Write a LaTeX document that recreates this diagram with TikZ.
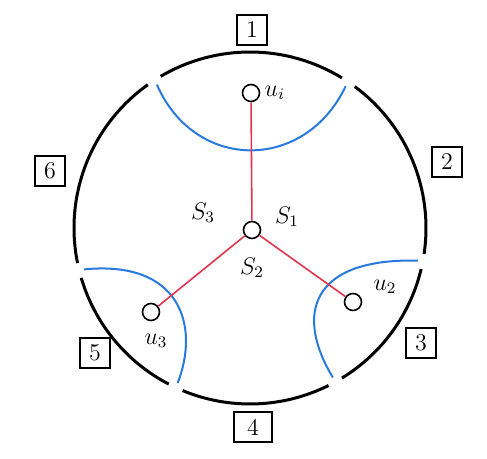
\documentclass[tikz,border=0pt]{standalone}
\usepackage{amsmath}
\usepackage{tikz}
\usetikzlibrary{calc,positioning}
\definecolor{cutblue}{RGB}{40,122,222}
\definecolor{treered}{RGB}{226,52,78}

\begin{document}
\begin{tikzpicture}[x=0.5pt, y=0.5pt,
  rim/.style={line width=1.5pt},
  cut/.style={cutblue, line width=1pt},
  tree/.style={treered, line width=0.8pt},
  vertex/.style={draw, circle, fill=white, line width=0.8pt, minimum size=8.5pt, inner sep=0pt},
  numbox/.style={draw, line width=0.9pt, minimum width=15pt, minimum height=15pt, inner sep=0pt, font=\large},
  lab/.style={font=\large, inner sep=1pt}
]
\useasboundingbox (0,0) rectangle (487,459);
\coordinate (c) at (250,231);

\draw[rim] ($(c)+(58.5:176)$) arc[start angle=58.5, end angle=120.5, radius=88pt];
\draw[rim] ($(c)+(125.5:176)$) arc[start angle=125.5, end angle=191.5, radius=88pt];
\draw[rim] ($(c)+(196.5:176)$) arc[start angle=196.5, end angle=242.5, radius=88pt];
\draw[rim] ($(c)+(247.5:176)$) arc[start angle=247.5, end angle=296.5, radius=88pt];
\draw[rim] ($(c)+(301.5:176)$) arc[start angle=301.5, end angle=346.5, radius=88pt];
\draw[rim] ($(c)+(351.5:176)$) arc[start angle=351.5, end angle=413.5, radius=88pt];

\coordinate (g1l) at ($(c)+(123:171)$);
\coordinate (g1r) at ($(c)+(56:171)$);
\coordinate (g3t) at ($(c)+(349:171)$);
\coordinate (g3b) at ($(c)+(299:171)$);
\coordinate (g5t) at ($(c)+(194:171)$);
\coordinate (g5b) at ($(c)+(245:171)$);

\draw[cut] (g1l) .. controls (195,287) and (305,287) .. (g1r);
\draw[cut] (g3t) .. controls (310,201) and (295,144) .. (g3b);
\draw[cut] (g5t) .. controls (180,199) and (200,134) .. (g5b);

\node[vertex] (s) at (252,229) {};
\node[vertex] (ui) at (251,366) {};
\node[vertex] (u2) at (353,157) {};
\node[vertex] (u3) at (151,147) {};

\draw[tree] (s) -- (ui);
\draw[tree] (s) -- (u2);
\draw[tree] (s) -- (u3);

\node[lab, right=1pt of ui] (uil) {$u_i$};
\node[lab] (u2l) at (385,172) {$u_2$};
\node[lab] (u3l) at (156,118) {$u_3$};

\node[lab] (s1) at (287,242) {$S_1$};
\node[lab] (s2) at (252,191) {$S_2$};
\node[lab] (s3) at (203,246) {$S_3$};

\node[numbox] (n1) at (252,429) {1};
\node[numbox] (n2) at (447,297) {2};
\node[numbox] (n3) at (421,116) {3};
\node[numbox, minimum width=19pt] (n4) at (253,32) {4};
\node[numbox] (n5) at (95,106) {5};
\node[numbox] (n6) at (50,288) {6};
\end{tikzpicture}
\end{document}
